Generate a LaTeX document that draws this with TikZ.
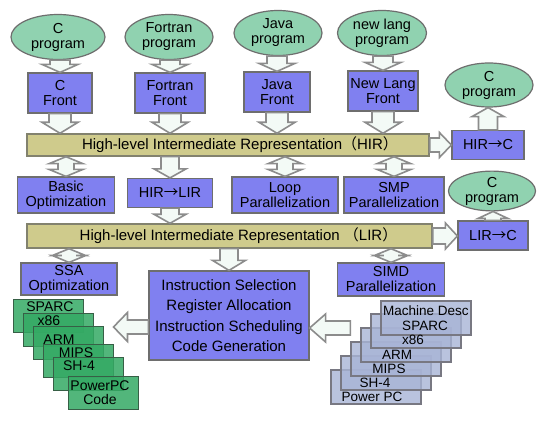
\documentclass[tikz,border=0pt]{standalone}
\usepackage{fontspec}
\setmainfont{Liberation Sans}
\newfontfamily\cjk{Noto Sans CJK SC}
\usetikzlibrary{shapes.geometric,calc}
\definecolor{progfill}{RGB}{144,210,176}
\definecolor{boxfill}{RGB}{128,128,240}
\definecolor{barfill}{RGB}{207,203,140}
\definecolor{linegray}{RGB}{110,110,110}
\definecolor{bargray}{RGB}{130,130,110}
\definecolor{arrowfill}{RGB}{243,250,246}
\definecolor{arrowgray}{RGB}{140,140,140}
\definecolor{gfill}{RGB}{52,170,100}
\definecolor{gline}{RGB}{55,95,70}
\definecolor{bfill}{RGB}{168,180,214}
\definecolor{bline}{RGB}{120,120,130}
% vertical block arrow: #1 node giving x, #2 from, #3 to, #4 shaft half, #5 head half, #6 head length
\newcommand\varr[6]{%
  \filldraw[barrow] let \p0=(#1.center),\p1=(#2),\p2=(#3),\n1={sign(\y1-\y2)} in
  (\x0-#4pt,\y1) -- (\x0+#4pt,\y1) -- (\x0+#4pt,\y2+\n1*#6pt) -- (\x0+#5pt,\y2+\n1*#6pt)
  -- (\x0,\y2) -- (\x0-#5pt,\y2+\n1*#6pt) -- (\x0-#4pt,\y2+\n1*#6pt) -- cycle;}
% horizontal block arrow: #1 node giving y
\newcommand\harr[6]{%
  \filldraw[barrow] let \p0=(#1.center),\p1=(#2),\p2=(#3),\n1={sign(\x1-\x2)} in
  (\x1,\y0-#4pt) -- (\x1,\y0+#4pt) -- (\x2+\n1*#6pt,\y0+#4pt) -- (\x2+\n1*#6pt,\y0+#5pt)
  -- (\x2,\y0) -- (\x2+\n1*#6pt,\y0-#5pt) -- (\x2+\n1*#6pt,\y0-#4pt) -- cycle;}
% vertical double block arrow
\newcommand\vdarr[6]{%
  \filldraw[barrow] let \p0=(#1.center),\p1=(#2),\p2=(#3),\n1={sign(\y1-\y2)} in
  (\x0,\y1) -- (\x0+#5pt,\y1-\n1*#6pt) -- (\x0+#4pt,\y1-\n1*#6pt) -- (\x0+#4pt,\y2+\n1*#6pt)
  -- (\x0+#5pt,\y2+\n1*#6pt) -- (\x0,\y2) -- (\x0-#5pt,\y2+\n1*#6pt) -- (\x0-#4pt,\y2+\n1*#6pt)
  -- (\x0-#4pt,\y1-\n1*#6pt) -- (\x0-#5pt,\y1-\n1*#6pt) -- cycle;}
\tikzset{
  prog/.style={ellipse, fill=progfill, draw=linegray, line width=1.2pt, inner sep=0pt, align=center, font=\fontsize{14.5}{15}\selectfont},
  blk/.style={rectangle, fill=boxfill, draw=linegray, line width=1.2pt, inner sep=0pt, align=center, font=\fontsize{14.5}{15}\selectfont},
  irbar/.style={rectangle, fill=barfill, draw=bargray, line width=1.4pt, inner sep=0pt, font=\fontsize{15}{15}\selectfont},
  gbox/.style={rectangle, fill=gfill, fill opacity=0.85, draw=gline, line width=1pt, minimum width=70pt, minimum height=33pt, inner sep=0pt},
  bbox/.style={rectangle, fill=bfill, fill opacity=0.8, draw=bline, line width=1.2pt, minimum width=90pt, minimum height=34pt, inner sep=0pt},
  lbl/.style={inner sep=0pt, align=center, font=\fontsize{14}{14}\selectfont},
  blbl/.style={inner sep=0pt, align=center, font=\fontsize{13.5}{13.5}\selectfont},
  barrow/.style={fill=arrowfill, draw=arrowgray, line width=1.6pt, line join=miter}
}
\begin{document}
\begin{tikzpicture}[x=1pt,y=-1pt]
\useasboundingbox[fill=white] (0,0) rectangle (550,425);
% source programs
\node[prog, minimum width=94pt, minimum height=45pt] (p1) at (58,37) {C\\program};
\node[prog, minimum width=88pt, minimum height=45pt] (p2) at (169,37) {Fortran\\program};
\node[prog, minimum width=88pt, minimum height=45pt] (p3) at (278,33) {Java\\program};
\node[prog, minimum width=89pt, minimum height=45pt] (p4) at (382,33) {new lang\\program};
% fronts
\node[blk, minimum width=64pt, minimum height=40pt] (f1) at (60,93) {C\\Front};
\node[blk, minimum width=70pt, minimum height=40pt] (f2) at (170,93) {Fortran\\Front};
\node[blk, minimum width=66pt, minimum height=40pt] (f3) at (277,92) {Java\\Front};
\node[blk, minimum width=70pt, minimum height=40pt] (f4) at (383,91) {New Lang\\Front};
% HIR
\node[irbar, minimum width=402pt, minimum height=22pt] (hir) at (228,145) {\hspace*{24pt}High-level Intermediate Representation{\cjk （}HIR{\cjk ）}};
\node[blk, minimum width=72pt, minimum height=29pt] (hirc) at (488,145) {HIR{\cjk →}C};
\node[prog, minimum width=88pt, minimum height=44pt] (cp1) at (489,85) {C\\program};
% row 2
\node[blk, minimum width=97pt, minimum height=36pt] (bo) at (66,195) {Basic\\Optimization};
\node[blk, minimum width=85pt, minimum height=29pt] (hl) at (170,193) {HIR{\cjk →}LIR};
\node[blk, minimum width=106pt, minimum height=36pt] (lp) at (285,195) {Loop\\Parallelization};
\node[blk, minimum width=100pt, minimum height=36pt] (smp) at (394,195) {SMP\\Parallelization};
\node[prog, minimum width=87pt, minimum height=38pt] (cp2) at (492,191) {C\\program};
% LIR
\node[irbar, minimum width=405pt, minimum height=24pt] (lir) at (229.5,236) {\hspace*{18pt}High-level Intermediate Representation {\cjk （}LIR{\cjk ）}};
\node[blk, minimum width=70pt, minimum height=29pt] (lirc) at (493,235.5) {LIR{\cjk →}C};
% row 3
\node[blk, minimum width=96pt, minimum height=32pt] (ssa) at (69,279) {SSA\\Optimization};
\node[blk, minimum width=160pt, minimum height=89pt, font=\fontsize{15}{20.5}\selectfont] (inst) at (229,315.5) {Instruction Selection\\Register Allocation\\Instruction Scheduling\\Code Generation};
\node[blk, minimum width=107pt, minimum height=33pt] (simd) at (391,279.5) {SIMD\\Parallelization};
% green code stack
\node[gbox] (g1) at (48,316.5) {};
\node[gbox] (g2) at (58,330.5) {};
\node[gbox] (g3) at (68,343.5) {};
\node[gbox] (g4) at (78,361.5) {};
\node[gbox] (g5) at (88,374.5) {};
\node[gbox] (g6) at (103,393.5) {};
\node[lbl] (gl1) at (50,307) {SPARC};
\node[lbl] (gl2) at (49,321) {x86};
\node[lbl] (gl3) at (59,340) {ARM};
\node[lbl] (gl4) at (76,353) {MIPS};
\node[lbl] (gl5) at (79,366) {SH-4};
\node[lbl] (gl6) at (100,393) {PowerPC\\Code};
% machine description stack
\node[bbox] (b6) at (376,387) {};
\node[bbox] (b5) at (386,373) {};
\node[bbox] (b4) at (396,359) {};
\node[bbox] (b3) at (406,345) {};
\node[bbox] (b2) at (416,331) {};
\node[bbox] (b1) at (426,318) {};
\node[blbl] (bl0) at (426,311) {Machine Desc};
\node[blbl] (bl1) at (425,326) {SPARC};
\node[blbl] (bl2) at (413,340) {x86};
\node[blbl] (bl3) at (397,355) {ARM};
\node[blbl] (bl4) at (389,369) {MIPS};
\node[blbl] (bl5) at (375,382.5) {SH-4};
\node[blbl] (bl6) at (372,396.5) {Power PC};
\coordinate (gt) at (130,327);
\coordinate (bt) at (330,328);
% arrows
\varr{f1}{p1.south}{f1.north}{10}{18}{8}
\varr{f2}{p2.south}{f2.north}{10}{18}{8}
\varr{f3}{p3.south}{f3.north}{10}{18}{8}
\varr{f4}{p4.south}{f4.north}{10}{18}{8}
\varr{f1}{f1.south}{hir.north}{11}{18}{11}
\varr{f2}{f2.south}{hir.north}{11}{18}{11}
\varr{f3}{f3.south}{hir.north}{11}{18}{11}
\varr{f4}{f4.south}{hir.north}{11}{18}{11}
\harr{hir}{hir.east}{hirc.west}{7}{12.5}{12}
\varr{hirc}{hirc.north}{cp1.south}{9.5}{16}{9}
\vdarr{bo}{hir.south}{bo.north}{8}{17}{7}
\varr{hl}{hir.south}{hl.north}{9}{16}{9}
\vdarr{lp}{hir.south}{lp.north}{8}{17}{7}
\vdarr{smp}{hir.south}{smp.north}{8}{17}{7}
\varr{hl}{hl.south}{lir.north}{9}{16}{9}
\harr{lir}{lir.east}{lirc.west}{8}{13}{12}
\varr{lirc}{lirc.north}{cp2.south}{8}{15}{7}
\vdarr{ssa}{lir.south}{ssa.north}{8}{17}{7}
\varr{inst}{lir.south}{inst.north}{9}{16.5}{10}
\vdarr{simd}{lir.south}{simd.north}{8}{17}{7}
\harr{gt}{inst.west |- gt}{g4.east |- gt}{7}{14.5}{14}
\harr{bt}{b4.west |- bt}{inst.east |- bt}{7}{14}{16}
\end{tikzpicture}
\end{document}
